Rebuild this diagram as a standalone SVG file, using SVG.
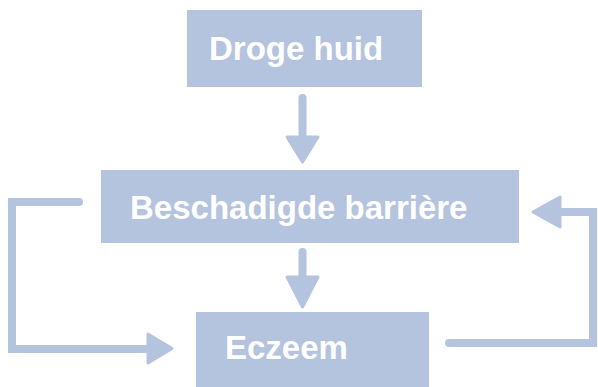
<svg xmlns="http://www.w3.org/2000/svg" width="598" height="387" viewBox="0 0 598 387">
<style>
.box{fill:#b4c3de}
.lbl{font-family:"Liberation Sans",Arial,sans-serif;font-weight:bold;font-size:33px;fill:#ffffff}
.ln{fill:none;stroke:#b4c3de;stroke-width:8;stroke-linecap:round;stroke-linejoin:miter}
.hd{fill:#b4c3de;stroke:#b4c3de;stroke-width:3;stroke-linejoin:round}
</style>
<rect width="598" height="387" fill="#ffffff"/>
<g id="node-droge">
<rect class="box" x="187" y="10" width="235" height="77"/>
<text class="lbl" x="209" y="60">Droge huid</text>
</g>
<g id="node-barriere">
<rect class="box" x="101" y="170" width="418" height="73"/>
<text class="lbl" x="130" y="219">Beschadigde barrière</text>
</g>
<g id="node-eczeem">
<rect class="box" x="196" y="312" width="233" height="80"/>
<text class="lbl" x="225" y="359">Eczeem</text>
</g>
<g id="connectors">
<path class="ln" d="M302.5,98 V140"/>
<polygon class="hd" points="287,137 318,137 302.5,162"/>
<path class="ln" d="M302.5,252 V280"/>
<polygon class="hd" points="287,277 318,277 302.5,307"/>
<path class="ln" d="M79,202 H12 V349 H150"/>
<polygon class="hd" points="148,334 148,363 172,348.5"/>
<path class="ln" d="M449,343 H593 V212 H558"/>
<polygon class="hd" points="560,197 560,227 533,212"/>
</g>
</svg>
